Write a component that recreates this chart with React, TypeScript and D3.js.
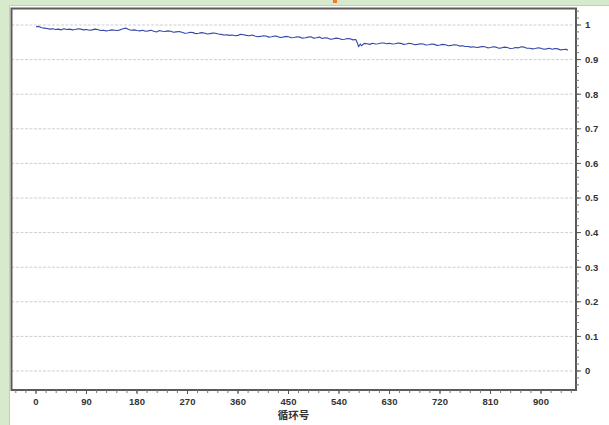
import React from "react";
import * as d3 from "d3";

const cycles = [0,5,10,15,20,25,30,35,40,45,50,55,60,65,70,75,80,85,90,95,100,105,110,115,120,125,130,135,140,145,150,155,160,165,170,175,180,185,190,195,200,205,210,215,220,225,230,235,240,245,250,255,260,265,270,275,280,285,290,295,300,305,310,315,320,325,330,335,340,345,350,355,360,365,370,375,380,385,390,395,400,405,410,415,420,425,430,435,440,445,450,455,460,465,470,475,480,485,490,495,500,505,510,515,520,525,530,535,540,545,550,555,560,565,570,573,575,578,580,585,590,595,600,605,610,615,620,625,630,635,640,645,650,655,660,665,670,675,680,685,690,695,700,705,710,715,720,725,730,735,740,745,750,755,760,765,770,775,780,785,790,795,800,805,810,815,820,825,830,835,840,845,850,855,860,865,870,875,880,885,890,895,900,905,910,915,920,925,930,935,940,945,948];
const efficiency = [0.995,0.996,0.992,0.991,0.990,0.988,0.989,0.987,0.988,0.986,0.989,0.987,0.988,0.986,0.987,0.989,0.988,0.986,0.987,0.985,0.986,0.988,0.987,0.984,0.985,0.983,0.984,0.986,0.985,0.984,0.986,0.989,0.991,0.987,0.985,0.986,0.984,0.983,0.985,0.982,0.983,0.985,0.982,0.980,0.984,0.982,0.981,0.983,0.982,0.979,0.980,0.981,0.979,0.976,0.977,0.979,0.978,0.975,0.976,0.978,0.977,0.974,0.975,0.977,0.976,0.974,0.973,0.971,0.972,0.970,0.971,0.969,0.970,0.973,0.972,0.970,0.969,0.971,0.968,0.966,0.967,0.969,0.968,0.965,0.966,0.968,0.967,0.964,0.965,0.967,0.966,0.963,0.964,0.966,0.965,0.962,0.963,0.965,0.966,0.962,0.963,0.965,0.961,0.963,0.962,0.959,0.960,0.962,0.961,0.958,0.959,0.961,0.960,0.957,0.958,0.947,0.937,0.945,0.940,0.947,0.946,0.944,0.947,0.945,0.946,0.948,0.948,0.946,0.947,0.945,0.946,0.948,0.947,0.944,0.945,0.947,0.946,0.943,0.944,0.946,0.945,0.942,0.943,0.945,0.944,0.941,0.942,0.944,0.943,0.940,0.941,0.943,0.942,0.939,0.940,0.938,0.938,0.936,0.937,0.935,0.936,0.938,0.937,0.934,0.935,0.937,0.936,0.933,0.934,0.936,0.935,0.932,0.933,0.935,0.934,0.937,0.936,0.933,0.933,0.931,0.932,0.934,0.933,0.930,0.931,0.933,0.930,0.932,0.931,0.928,0.929,0.930,0.927];
const xTicks = [0,90,180,270,360,450,540,630,720,810,900];
const yTicks = [0,0.1,0.2,0.3,0.4,0.5,0.6,0.7,0.8,0.9,1];
const xTitle = "循环号";

export default function App() {
  const W = 609, H = 425;
  const fL = 11.5, fR = 576, fT = 8.5, fB = 390;
  const x = d3.scaleLinear().domain([0, 900]).range([36, 541]);
  const y = d3.scaleLinear().domain([0, 1]).range([371, 25]);
  const xMin = x.invert(fL), xMax = x.invert(fR);
  const yMin = y.invert(fB), yMax = y.invert(fT);
  const xMinor = d3.range(Math.ceil(xMin / 18) * 18, xMax, 18);
  const yMinor = d3.range(Math.ceil(yMin / 0.02) * 0.02, yMax, 0.02);
  const line = d3.line<number>().x((_, i) => x(cycles[i])).y((d) => y(d));
  const font = "'Liberation Sans', 'DejaVu Sans', sans-serif";
  return (
    <svg width={W} height={H} style={{ position: "fixed", left: 0, top: 0, display: "block" }}>
      <rect x={0} y={0} width={W} height={H} fill="#d7eacb" />
      <rect x={9.5} y={5.5} width={W} height={H} fill="#ffffff" stroke="#c8c8c8" strokeWidth={1} />
      <rect x={333} y={0} width={4} height={3} fill="#f07a30" />
      {yTicks.map((t) => (
        <line key={"g" + t} x1={fL} x2={fR - 3} y1={y(t)} y2={y(t)} stroke="#cfcfcf" strokeWidth={1} strokeDasharray="3,1.5" />
      ))}
      <path d={line(efficiency) || ""} fill="none" stroke="#3448a8" strokeWidth={1.1} strokeLinejoin="round" />
      <rect x={fL} y={fT} width={fR - fL} height={fB - fT} fill="none" stroke="#5a5a5a" strokeWidth={2} />
      {xMinor.map((t) => (
        <line key={"xm" + t} x1={x(t)} x2={x(t)} y1={fB} y2={fB + 3} stroke="#777" strokeWidth={1} />
      ))}
      {xTicks.map((t) => (
        <line key={"xt" + t} x1={x(t)} x2={x(t)} y1={fB} y2={fB + 4} stroke="#555" strokeWidth={1} />
      ))}
      {yMinor.map((t) => (
        <line key={"ym" + t.toFixed(2)} x1={fR} x2={fR + 3} y1={y(t)} y2={y(t)} stroke="#777" strokeWidth={1} />
      ))}
      {yTicks.map((t) => (
        <line key={"yt" + t} x1={fR} x2={fR + 5} y1={y(t)} y2={y(t)} stroke="#555" strokeWidth={1} />
      ))}
      {xTicks.map((t) => (
        <text key={"xl" + t} x={x(t)} y={405} textAnchor="middle" fontFamily={font} fontSize={9.5} fontWeight="bold" fill="#333">{t}</text>
      ))}
      {yTicks.map((t) => (
        <text key={"yl" + t} x={585} y={y(t)} dy="0.35em" textAnchor="start" fontFamily={font} fontSize={9.5} fontWeight="bold" fill="#333">{String(t)}</text>
      ))}
      <text x={(x(0) + x(900)) / 2 + 5} y={419} textAnchor="middle" fontFamily="'Noto Sans CJK SC', sans-serif" fontSize={10.5} fontWeight="bold" fill="#333">{xTitle}</text>
    </svg>
  );
}
